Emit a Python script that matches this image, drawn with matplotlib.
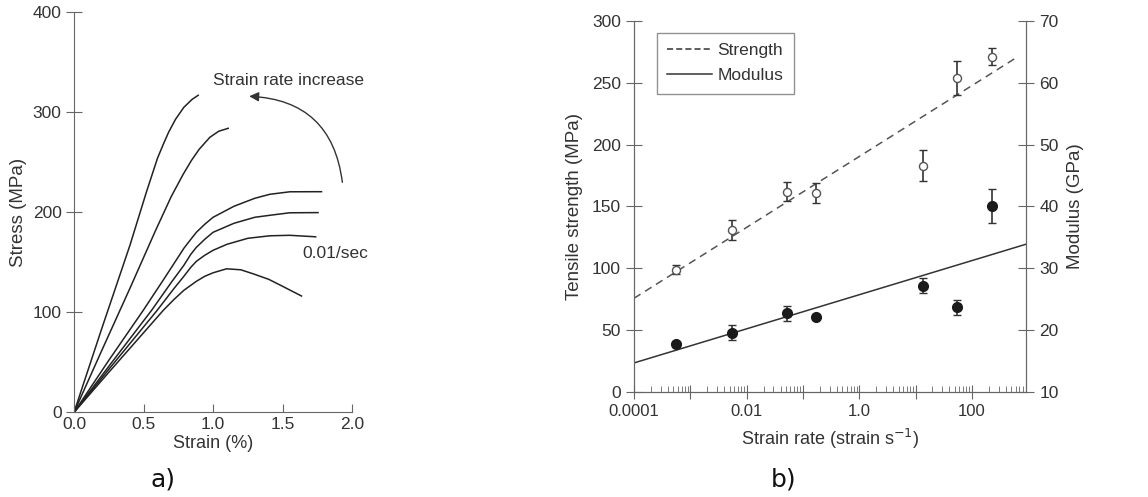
import matplotlib
matplotlib.use('Agg')
import matplotlib.pyplot as plt
from matplotlib.ticker import FixedLocator, FixedFormatter, LogLocator, NullFormatter
from matplotlib.lines import Line2D

plt.rcParams['font.family'] = ['Liberation Sans', 'DejaVu Sans']

# Panel a) stress-strain curves (strain in %, stress in MPa)
c1_strain = [0, 0.2, 0.402, 0.52, 0.60, 0.642, 0.68, 0.73, 0.79, 0.85, 0.893]
c1_stress = [0, 84, 167, 220, 254, 268, 280, 293, 305, 313, 317]
c2_strain = [0, 0.2, 0.402, 0.587, 0.70, 0.785, 0.845, 0.90, 0.977, 1.04, 1.109]
c2_stress = [0, 62, 124, 182, 216, 238, 252, 263, 275, 281, 284]
c3_strain = [0, 0.25, 0.498, 0.65, 0.79, 0.84, 0.88, 0.94, 1.0, 1.15, 1.3, 1.408, 1.552, 1.78]
c3_stress = [0, 52, 102, 134, 164, 173, 180, 188, 195, 206, 214, 218, 220.5, 220.6]
c4_strain = [0, 0.25, 0.558, 0.70, 0.79, 0.84, 0.88, 0.94, 1.0, 1.15, 1.3, 1.408, 1.55, 1.755]
c4_stress = [0, 46, 102, 130, 147, 158, 165, 173, 180, 189, 195, 197, 199.5, 199.7]
c5_strain = [0, 0.25, 0.598, 0.72, 0.79, 0.84, 0.88, 0.94, 1.0, 1.1, 1.25, 1.408, 1.55, 1.738]
c5_stress = [0, 43, 102, 124, 136, 145, 151, 157, 162, 168, 174, 176.5, 177, 175.5]
c6_strain = [0, 0.25, 0.642, 0.72, 0.79, 0.88, 0.94, 1.0, 1.097, 1.2, 1.288, 1.4, 1.5, 1.636]
c6_stress = [0, 40, 102, 113, 122, 131, 136, 139.5, 143.5, 142.5, 138.5, 133, 126, 116.3]

# Panel b) tensile strength / modulus vs strain rate
rate = [5.5e-4, 5.5e-3, 0.053, 0.17, 13.5, 54, 225]
strength = [99, 131, 162, 161, 183, 254, 271]
strength_err = [4, 8, 7.5, 8, 12.5, 14, 7]
modulus = [17.7, 19.6, 22.7, 22.1, 27.2, 23.7, 40.1]
modulus_err = [0.4, 1.2, 1.2, 0.0, 1.2, 1.2, 2.7]
strength_fit_x = [1e-4, 630]
strength_fit_y = [75.8, 270.6]
modulus_fit_x = [1e-4, 920]
modulus_fit_y = [14.7, 33.9]

txt = '#333333'
spine = '#666666'

fig = plt.figure(figsize=(11.48, 4.97), dpi=100)

# ---- a) ----
ax1 = fig.add_axes([0.0645, 0.1704, 0.2422, 0.8049])
for sx, sy in [(c1_strain, c1_stress), (c2_strain, c2_stress), (c3_strain, c3_stress),
               (c4_strain, c4_stress), (c5_strain, c5_stress), (c6_strain, c6_stress)]:
    ax1.plot(sx, sy, color='#222222', lw=1.1)
ax1.set_xlim(0, 2.0)
ax1.set_ylim(0, 400)
ax1.set_xticks([0, 0.5, 1.0, 1.5, 2.0])
ax1.set_xticklabels(['0.0', '0.5', '1.0', '1.5', '2.0'])
ax1.set_yticks([0, 100, 200, 300, 400])
for s in ['top', 'right']:
    ax1.spines[s].set_visible(False)
for s in ['left', 'bottom']:
    ax1.spines[s].set_color(spine)
ax1.tick_params(axis='y', direction='inout', length=11, color=spine, labelsize=12.5, labelcolor=txt)
ax1.tick_params(axis='x', direction='in', length=6, color=spine, labelsize=12.5, labelcolor=txt)
ax1.set_xlabel('Strain (%)', fontsize=13, color=txt, labelpad=2)
ax1.set_ylabel('Stress (MPa)', fontsize=13.5, color=txt, labelpad=4)
ax1.text(1.0, 332, 'Strain rate increase', fontsize=12.5, color=txt, va='center')
ax1.text(1.64, 159, '0.01/sec', fontsize=12.5, color=txt, va='center')
ax1.annotate('', xy=(1.26, 316), xytext=(1.93, 230),
             arrowprops=dict(arrowstyle='-|>', color='#333333', lw=1.0,
                             connectionstyle='arc3,rad=0.42', mutation_scale=14,
                             shrinkA=0, shrinkB=0))

# ---- b) ----
ax = fig.add_axes([0.5523, 0.2113, 0.3415, 0.7465])
ax.set_xscale('log')
ax.set_xlim(1e-4, 920)
ax.set_ylim(0, 300)
ax2 = ax.twinx()
ax2.set_ylim(10, 70)

ax.plot(strength_fit_x, strength_fit_y, color='#555555', lw=1.1, ls=(0, (5, 3.5)))
ax.errorbar(rate, strength, yerr=strength_err, fmt='o', mfc='white', mec='#555555',
            ms=5.8, ecolor='#333333', elinewidth=1.2, capsize=3, capthick=1)
ax2.plot(modulus_fit_x, modulus_fit_y, color='#333333', lw=1.1)
ax2.errorbar(rate, modulus, yerr=modulus_err, fmt='o', color='#1a1a1a', ms=7,
             ecolor='#333333', elinewidth=1.2, capsize=3, capthick=1)

ax.xaxis.set_major_locator(FixedLocator([1e-4, 1e-3, 1e-2, 1e-1, 1, 10, 100]))
ax.xaxis.set_major_formatter(FixedFormatter(['0.0001', '', '0.01', '', '1.0', '', '100']))
ax.xaxis.set_minor_locator(LogLocator(base=10, subs=[2, 3, 4, 5, 6, 7, 8, 9], numticks=20))
ax.xaxis.set_minor_formatter(NullFormatter())
ax.set_yticks([0, 50, 100, 150, 200, 250, 300])
ax2.set_yticks([10, 20, 30, 40, 50, 60, 70])

for a in (ax, ax2):
    a.spines['top'].set_visible(False)
    for s in ['left', 'right', 'bottom']:
        a.spines[s].set_color(spine)
ax.tick_params(axis='x', which='major', direction='inout', length=10, color=spine,
               labelsize=12, labelcolor=txt)
ax.tick_params(axis='x', which='minor', direction='in', length=4, color=spine)
ax.tick_params(axis='y', direction='inout', length=12, color=spine, labelsize=12.5, labelcolor=txt)
ax2.tick_params(axis='y', direction='inout', length=12, color=spine, labelsize=12.5, labelcolor=txt)

ax.set_xlabel('Strain rate (strain s$^{-1}$)', fontsize=13, color=txt, labelpad=6)
ax.set_ylabel('Tensile strength (MPa)', fontsize=13.5, color=txt, labelpad=6)
ax2.set_ylabel('Modulus (GPa)', fontsize=13.5, color=txt, labelpad=6)

handles = [Line2D([], [], color='#333333', lw=1.1, ls=(0, (4, 2))),
           Line2D([], [], color='#333333', lw=1.1)]
leg = ax.legend(handles, ['Strength', 'Modulus'], loc='upper left',
                bbox_to_anchor=(0.058, 0.968), borderaxespad=0, fancybox=False,
                edgecolor='#777777', fontsize=12.5, handlelength=2.6,
                handletextpad=0.3, borderpad=0.6, labelspacing=0.55)
leg.get_frame().set_linewidth(1.0)
for t in leg.get_texts():
    t.set_color(txt)

fig.text(0.131, 0.022, 'a)', fontsize=18, family='DejaVu Sans', color='#111111')
fig.text(0.671, 0.022, 'b)', fontsize=18, family='DejaVu Sans', color='#111111')

fig.savefig('out.png', dpi=100)
